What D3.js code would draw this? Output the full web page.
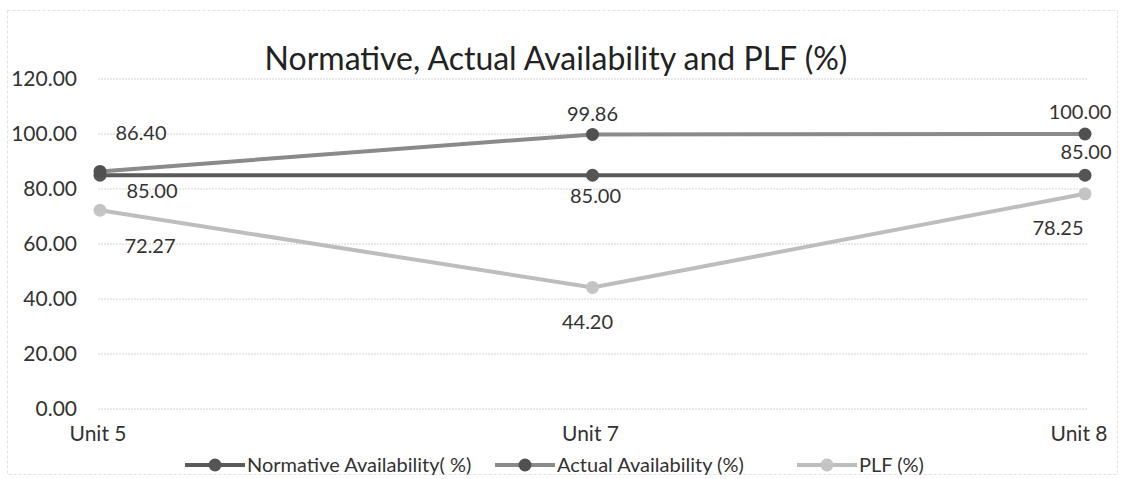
<!DOCTYPE html>
<html lang="en">
<head>
    <meta charset="UTF-8">
    <title>Normative, Actual Availability and PLF (%)</title>
    <script src="https://d3js.org/d3.v7.min.js"></script>
    <style>
        body {
            margin: 0;
            padding: 0;
            background: #fff;
            font-family: Lato, "Open Sans", sans-serif;
        }
        .grid line {
            stroke: #d4d4d4;
            stroke-width: 1;
            stroke-dasharray: 2 1;
        }
        .tick-label {
            fill: #333;
            font-size: 21px;
        }
        .value-label {
            fill: #333;
            font-size: 20px;
            text-anchor: middle;
        }
        .legend text {
            fill: #333;
            font-size: 20px;
        }
    </style>
</head>
<body>
    <div id="chart"></div>
    <script>
        const units = ["Unit 5", "Unit 7", "Unit 8"];
        const normative = [85.00, 85.00, 85.00];
        const actual = [86.40, 99.86, 100.00];
        const plf = [72.27, 44.20, 78.25];
        const yTicks = [0, 20, 40, 60, 80, 100, 120];

        const width = 1125, height = 479;

        // series styles and label nudges (dx, dy from the point)
        const series = [
            { name: "Normative Availability( %)", values: normative, line: "#5a5a5a", dot: "#555",
              offsets: [[52, 23], [3, 28], [1, -16]] },
            { name: "Actual Availability (%)", values: actual, line: "#8a8a8a", dot: "#505050",
              offsets: [[41, -31], [0, -13], [-5, -15]] },
            { name: "PLF (%)", values: plf, line: "#bdbdbd", dot: "#c4c4c4",
              offsets: [[50, 43], [-5, 42], [-27, 41]] }
        ];

        const svg = d3.select("#chart")
            .append("svg")
            .attr("width", width)
            .attr("height", height);

        // outer frame
        svg.append("rect")
            .attr("x", 7.5).attr("y", 10.5)
            .attr("width", 1110).attr("height", 464)
            .attr("fill", "none")
            .attr("stroke", "#e2e2e2")
            .attr("stroke-dasharray", "3 2");

        const x = d3.scalePoint()
            .domain(units)
            .range([100, 1085]);

        const y = d3.scaleLinear()
            .domain([0, 120])
            .range([409, 79]);

        svg.append("text")
            .attr("x", 556)
            .attr("y", 70)
            .attr("text-anchor", "middle")
            .attr("fill", "#222")
            .style("font-size", "32px")
            .text("Normative, Actual Availability and PLF (%)");

        svg.append("g")
            .attr("class", "grid")
            .selectAll("line")
            .data(yTicks)
            .enter().append("line")
            .attr("x1", 98)
            .attr("x2", 1088)
            .attr("y1", d => y(d))
            .attr("y2", d => y(d));

        svg.append("g")
            .selectAll("text")
            .data(yTicks)
            .enter().append("text")
            .attr("class", "tick-label")
            .attr("x", 77)
            .attr("y", d => y(d) + 7)
            .attr("text-anchor", "end")
            .text(d => d.toFixed(2));

        svg.append("g")
            .selectAll("text")
            .data(units)
            .enter().append("text")
            .attr("class", "tick-label")
            .attr("x", (d, i) => x(d) - (i === 2 ? 6 : 2))
            .attr("y", 441)
            .attr("text-anchor", "middle")
            .text(d => d);

        const line = d3.line()
            .x((d, i) => x(units[i]))
            .y(d => y(d));

        series.forEach(s => {
            svg.append("path")
                .datum(s.values)
                .attr("fill", "none")
                .attr("stroke", s.line)
                .attr("stroke-width", 4)
                .attr("d", line);
        });

        series.forEach(s => {
            svg.append("g")
                .selectAll("circle")
                .data(s.values)
                .enter().append("circle")
                .attr("cx", (d, i) => x(units[i]))
                .attr("cy", d => y(d))
                .attr("r", 6.5)
                .attr("fill", s.dot);
        });

        series.forEach(s => {
            svg.append("g")
                .selectAll("text")
                .data(s.values)
                .enter().append("text")
                .attr("class", "value-label")
                .attr("x", (d, i) => x(units[i]) + s.offsets[i][0])
                .attr("y", (d, i) => y(d) + s.offsets[i][1])
                .text(d => d.toFixed(2));
        });

        // legend
        const legendX = [185, 495, 797];
        const legend = svg.append("g").attr("class", "legend");
        series.forEach((s, i) => {
            const g = legend.append("g").attr("transform", `translate(${legendX[i]},465)`);
            g.append("line")
                .attr("x1", 0).attr("x2", 60)
                .attr("y1", 0).attr("y2", 0)
                .attr("stroke", s.line)
                .attr("stroke-width", 4);
            g.append("circle")
                .attr("cx", 30).attr("cy", 0)
                .attr("r", 6.5)
                .attr("fill", s.dot);
            g.append("text")
                .attr("x", 62)
                .attr("y", 7)
                .text(s.name);
        });
    </script>
</body>
</html>
